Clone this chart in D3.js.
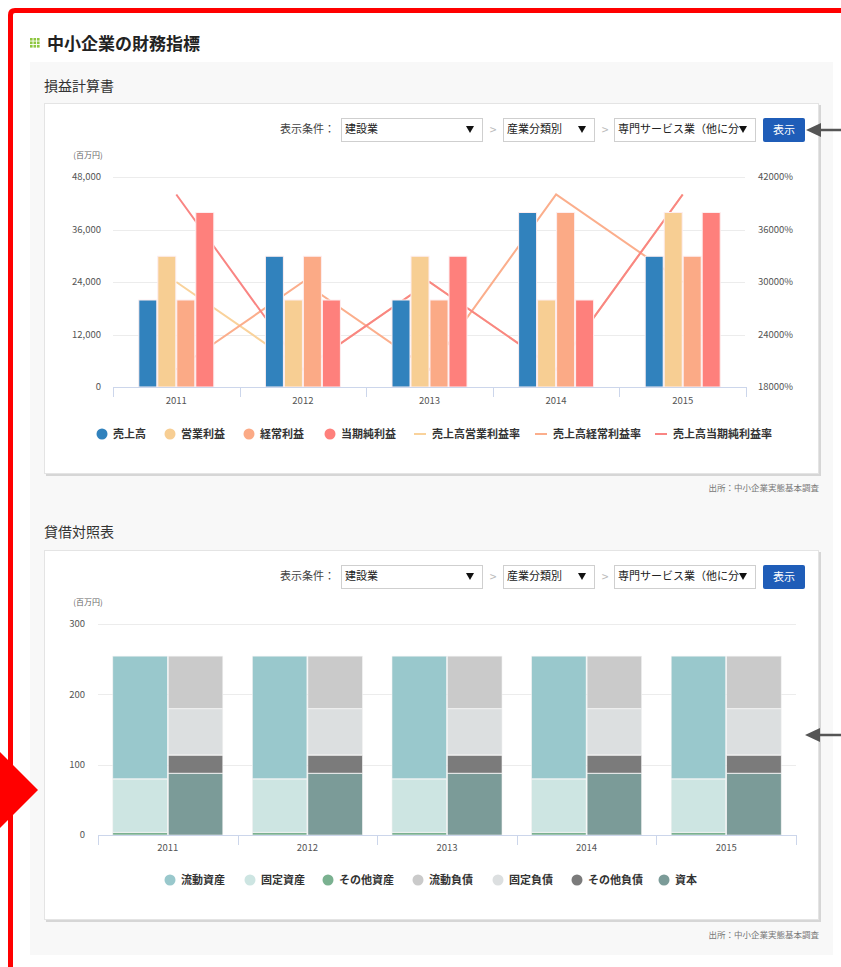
<!DOCTYPE html>
<html lang="ja">
<head>
<meta charset="UTF-8">
<title>中小企業の財務指標</title>
<script src="https://cdn.jsdelivr.net/npm/d3@7"></script>
<style>
  body { margin: 0; background: #fff; font-family: "Noto Sans CJK JP", "Noto Sans", sans-serif; }
  svg { display: block; }
  text { font-family: "Noto Sans CJK JP", "Noto Sans", sans-serif; }
</style>
</head>
<body>
<svg id="page" width="841" height="967"></svg>
<script>
// ---- data ----
const years = ["2011", "2012", "2013", "2014", "2015"];

// 損益計算書 (百万円)
const sales = [20000, 30000, 20000, 40000, 30000];
const operatingProfit = [30000, 20000, 30000, 20000, 40000];
const ordinaryProfit = [20000, 30000, 20000, 40000, 30000];
const netProfit = [40000, 20000, 30000, 20000, 40000];
// ratios (%)
const operatingMargin = [30000, 20000, 30000, 20000, 40000];
const ordinaryMargin = [20000, 30000, 20000, 40000, 30000];
const netMargin = [40000, 20000, 30000, 20000, 40000];

const plLeftTicks = [0, 12000, 24000, 36000, 48000];
const plRightTicks = [18000, 24000, 30000, 36000, 42000];

// 貸借対照表 (百万円)
const currentAssets = [175, 175, 175, 175, 175];
const fixedAssets = [76, 76, 76, 76, 76];
const otherAssets = [4, 4, 4, 4, 4];
const currentLiabilities = [75, 75, 75, 75, 75];
const fixedLiabilities = [66, 66, 66, 66, 66];
const otherLiabilities = [26, 26, 26, 26, 26];
const capital = [88, 88, 88, 88, 88];

const bsTicks = [0, 100, 200, 300];

// ---- page ----
const svg = d3.select("#page");

// gray panel
svg.append("rect").attr("x", 30).attr("y", 62).attr("width", 803).attr("height", 893).attr("fill", "#f8f8f8");

// title
const icon = svg.append("g").attr("transform", "translate(30,38)");
for (let i = 0; i < 3; i++) for (let j = 0; j < 3; j++) {
  icon.append("rect").attr("x", i * 3.5).attr("y", j * 3.5).attr("width", 2.6).attr("height", 2.6).attr("fill", "#8dc63f");
}
svg.append("text").attr("x", 47).attr("y", 50).attr("font-size", 17).attr("font-weight", "bold")
  .attr("fill", "#222").text("中小企業の財務指標");

svg.append("text").attr("x", 44).attr("y", 91).attr("font-size", 14).attr("fill", "#333").text("損益計算書");
svg.append("text").attr("x", 44).attr("y", 537).attr("font-size", 14).attr("fill", "#333").text("貸借対照表");

function card(y, h) {
  svg.append("rect").attr("x", 46).attr("y", y + 2).attr("width", 775).attr("height", h).attr("fill", "#d6d6d6");
  svg.append("rect").attr("x", 44.5).attr("y", y + 0.5).attr("width", 774).attr("height", h - 1)
    .attr("fill", "#fff").attr("stroke", "#e4e4e4");
}
card(103, 371);
card(550, 370);

function source(y) {
  svg.append("text").attr("x", 819).attr("y", y).attr("text-anchor", "end").attr("font-size", 8.5)
    .attr("fill", "#777").attr("dy", "0.35em").text("出所：中小企業実態基本調査");
}
source(488);
source(935);

function controls(y) {
  const g = svg.append("g").attr("transform", `translate(0,${y})`);
  g.append("text").attr("x", 280).attr("y", 11.5).attr("dy", "0.35em").attr("font-size", 11).attr("fill", "#444").text("表示条件：");
  const selects = [
    { x: 341, w: 141, label: "建設業" },
    { x: 503, w: 91, label: "産業分類別" },
    { x: 614, w: 141, label: "専門サービス業（他に分" }
  ];
  selects.forEach((s, i) => {
    g.append("rect").attr("x", s.x + 0.5).attr("y", 0.5).attr("width", s.w).attr("height", 23)
      .attr("fill", "#fff").attr("stroke", "#cfcfcf");
    g.append("text").attr("x", s.x + 4).attr("y", 11.5).attr("dy", "0.35em").attr("font-size", 11)
      .attr("fill", "#222").text(s.label);
    const tx = s.x + s.w - 12;
    g.append("path").attr("d", `M${tx - 4},8 L${tx + 4},8 L${tx},15 Z`).attr("fill", "#111");
    if (i < 2) {
      g.append("text").attr("x", s.x + s.w + 11).attr("y", 11.5).attr("dy", "0.35em").attr("text-anchor", "middle")
        .attr("font-size", 12).attr("fill", "#bbb").text(">");
    }
  });
  g.append("rect").attr("x", 763).attr("y", 0).attr("width", 42).attr("height", 24).attr("rx", 2).attr("fill", "#1f5db8");
  g.append("text").attr("x", 784).attr("y", 12).attr("dy", "0.35em").attr("text-anchor", "middle")
    .attr("font-size", 11).attr("fill", "#fff").text("表示");
}
controls(118);
controls(565);

// ---- 損益計算書 chart ----
{
  const left = 113, right = 746, y0 = 387, y1 = 177;
  const x = d3.scaleBand().domain(years).range([left, right]);
  const yL = d3.scaleLinear().domain([0, 48000]).range([y0, y1]);
  const yR = d3.scaleLinear().domain([18000, 42000]).range([y0, y1]);
  const g = svg.append("g");

  g.selectAll(".grid").data(plLeftTicks.slice(1)).join("line")
    .attr("x1", left).attr("x2", right - 1).attr("y1", d => Math.round(yL(d)) + 0.5).attr("y2", d => Math.round(yL(d)) + 0.5)
    .attr("stroke", "#ececec");

  g.append("text").attr("x", 88).attr("y", 158).attr("text-anchor", "middle").attr("font-size", 8).attr("fill", "#666").text("(百万円)");

  g.selectAll(".yl").data(plLeftTicks).join("text")
    .attr("x", 101).attr("y", d => yL(d)).attr("dy", "0.35em").attr("text-anchor", "end")
    .attr("font-size", 9.5).attr("fill", "#555").text(d => d3.format(",")(d));
  g.selectAll(".yr").data(plRightTicks).join("text")
    .attr("x", 758).attr("y", d => yR(d)).attr("dy", "0.35em")
    .attr("font-size", 9.5).attr("fill", "#555").text(d => d + "%");

  // lines sit behind the columns
  const lineSeries = [
    { values: operatingMargin, color: "#f9d29b" },
    { values: ordinaryMargin, color: "#fbae8c" },
    { values: netMargin, color: "#f98583" }
  ];
  const line = d3.line().x((d, i) => x(years[i]) + x.bandwidth() / 2).y(d => yR(d));
  lineSeries.forEach(s => {
    g.append("path").attr("d", line(s.values)).attr("fill", "none").attr("stroke", s.color).attr("stroke-width", 2);
  });

  const barSeries = [
    { name: "売上高", values: sales, color: "#3182bd" },
    { name: "営業利益", values: operatingProfit, color: "#f7ce93" },
    { name: "経常利益", values: ordinaryProfit, color: "#fbaa86" },
    { name: "当期純利益", values: netProfit, color: "#fe807c" }
  ];
  const groupW = 76;
  const x1 = d3.scaleBand().domain(barSeries.map(s => s.name)).range([0, groupW]);
  barSeries.forEach(s => {
    g.append("g").selectAll("rect").data(s.values).join("rect")
      .attr("x", (d, i) => x(years[i]) + (x.bandwidth() - groupW) / 2 + x1(s.name) + 0.5)
      .attr("y", d => yL(d) + 0.5)
      .attr("width", x1.bandwidth() - 1)
      .attr("height", d => yL(0) - yL(d) - 0.5)
      .attr("fill", s.color).attr("stroke", "#fdeef0").attr("stroke-width", 1);
  });

  // x axis
  g.append("line").attr("x1", left).attr("x2", right).attr("y1", y0 + 0.5).attr("y2", y0 + 0.5).attr("stroke", "#ccd6eb");
  const edges = years.map(d => x(d)).concat([right]);
  g.selectAll(".tk").data(edges).join("line")
    .attr("x1", d => Math.round(d) + 0.5).attr("x2", d => Math.round(d) + 0.5).attr("y1", y0).attr("y2", y0 + 10)
    .attr("stroke", "#ccd6eb");
  g.selectAll(".xl").data(years).join("text")
    .attr("x", d => x(d) + x.bandwidth() / 2).attr("y", 401).attr("dy", "0.35em").attr("text-anchor", "middle")
    .attr("font-size", 9.5).attr("fill", "#555").text(d => d);

  // legend
  const legendItems = [
    { name: "売上高", color: "#3182bd", type: "dot", x: 102 },
    { name: "営業利益", color: "#f7ce93", type: "dot", x: 170 },
    { name: "経常利益", color: "#fbaa86", type: "dot", x: 249 },
    { name: "当期純利益", color: "#fe807c", type: "dot", x: 330 },
    { name: "売上高営業利益率", color: "#f9d29b", type: "line", x: 420 },
    { name: "売上高経常利益率", color: "#fbae8c", type: "line", x: 541 },
    { name: "売上高当期純利益率", color: "#f98583", type: "line", x: 661 }
  ];
  const lg = g.append("g").attr("transform", "translate(0,434)");
  legendItems.forEach(it => {
    if (it.type === "dot") {
      lg.append("circle").attr("cx", it.x).attr("cy", 0).attr("r", 5.5).attr("fill", it.color);
    } else {
      lg.append("line").attr("x1", it.x - 6).attr("x2", it.x + 6).attr("y1", 0).attr("y2", 0)
        .attr("stroke", it.color).attr("stroke-width", 2);
    }
    lg.append("text").attr("x", it.x + (it.type === "dot" ? 11 : 12)).attr("y", 0).attr("dy", "0.35em")
      .attr("font-size", 11).attr("font-weight", "bold").attr("fill", "#333").text(it.name);
  });
}

// ---- 貸借対照表 chart ----
{
  const left = 98, right = 796, y0 = 835, y1 = 624;
  const x = d3.scaleBand().domain(years).range([left, right]);
  const y = d3.scaleLinear().domain([0, 300]).range([y0, y1]);
  const g = svg.append("g");

  g.selectAll(".grid").data(bsTicks.slice(1)).join("line")
    .attr("x1", left).attr("x2", right).attr("y1", d => Math.round(y(d)) + 0.5).attr("y2", d => Math.round(y(d)) + 0.5)
    .attr("stroke", "#ececec");
  g.append("text").attr("x", 88).attr("y", 605).attr("text-anchor", "middle").attr("font-size", 8).attr("fill", "#666").text("(百万円)");
  g.selectAll(".yl").data(bsTicks).join("text")
    .attr("x", 85).attr("y", d => y(d)).attr("dy", "0.35em").attr("text-anchor", "end")
    .attr("font-size", 9.5).attr("fill", "#555").text(d => d);

  const stacks = [
    { key: "assets", series: [
      { name: "その他資産", values: otherAssets, color: "#7ab190" },
      { name: "固定資産", values: fixedAssets, color: "#cde5e2" },
      { name: "流動資産", values: currentAssets, color: "#99c8cc" }
    ] },
    { key: "liabilities", series: [
      { name: "資本", values: capital, color: "#7b9b98" },
      { name: "その他負債", values: otherLiabilities, color: "#7b7b7b" },
      { name: "固定負債", values: fixedLiabilities, color: "#dcdfe0" },
      { name: "流動負債", values: currentLiabilities, color: "#cacaca" }
    ] }
  ];
  const groupW = 111;
  const x1 = d3.scaleBand().domain(stacks.map(s => s.key)).range([0, groupW]);
  stacks.forEach(st => {
    const rows = years.map((yr, i) => {
      const r = { year: yr };
      st.series.forEach(s => { r[s.name] = s.values[i]; });
      return r;
    });
    const layers = d3.stack().keys(st.series.map(s => s.name))(rows);
    layers.forEach((layer, li) => {
      g.append("g").selectAll("rect").data(layer).join("rect")
        .attr("x", d => x(d.data.year) + (x.bandwidth() - groupW) / 2 + x1(st.key) + 0.5)
        .attr("y", d => y(d[1]) + 0.5)
        .attr("width", x1.bandwidth() - 1)
        .attr("height", d => Math.max(0, y(d[0]) - y(d[1]) - 0.5))
        .attr("fill", st.series[li].color).attr("stroke", "#f2f2f2").attr("stroke-width", 0.6);
    });
  });

  g.append("line").attr("x1", left).attr("x2", right).attr("y1", y0 + 0.5).attr("y2", y0 + 0.5).attr("stroke", "#ccd6eb");
  const edges = years.map(d => x(d)).concat([right]);
  g.selectAll(".tk").data(edges).join("line")
    .attr("x1", d => Math.round(d) + 0.5).attr("x2", d => Math.round(d) + 0.5).attr("y1", y0).attr("y2", y0 + 10)
    .attr("stroke", "#ccd6eb");
  g.selectAll(".xl").data(years).join("text")
    .attr("x", d => x(d) + x.bandwidth() / 2).attr("y", 848).attr("dy", "0.35em").attr("text-anchor", "middle")
    .attr("font-size", 9.5).attr("fill", "#555").text(d => d);

  const legendItems = [
    { name: "流動資産", color: "#99c8cc", x: 170 },
    { name: "固定資産", color: "#cde5e2", x: 250 },
    { name: "その他資産", color: "#7ab190", x: 328 },
    { name: "流動負債", color: "#cacaca", x: 418 },
    { name: "固定負債", color: "#dcdfe0", x: 498 },
    { name: "その他負債", color: "#7b7b7b", x: 577 },
    { name: "資本", color: "#7b9b98", x: 664 }
  ];
  const lg = g.append("g").attr("transform", "translate(0,880)");
  legendItems.forEach(it => {
    lg.append("circle").attr("cx", it.x).attr("cy", 0).attr("r", 5.5).attr("fill", it.color);
    lg.append("text").attr("x", it.x + 11).attr("y", 0).attr("dy", "0.35em")
      .attr("font-size", 11).attr("font-weight", "bold").attr("fill", "#333").text(it.name);
  });
}

// ---- annotation marks (red frame, arrows) ----
svg.append("path").attr("d", "M10.5,967 V15 Q10.5,10.5 15,10.5 H841")
  .attr("fill", "none").attr("stroke", "#ff0000").attr("stroke-width", 5);
svg.append("path").attr("d", "M0,752 L38,790 L0,828 Z").attr("fill", "#ff0000");

function grayArrow(tipX, tipY) {
  svg.append("line").attr("x1", tipX + 10).attr("x2", 841).attr("y1", tipY).attr("y2", tipY)
    .attr("stroke", "#555").attr("stroke-width", 2.5);
  svg.append("path").attr("d", `M${tipX},${tipY} L${tipX + 15},${tipY - 7} L${tipX + 15},${tipY + 7} Z`).attr("fill", "#555");
}
grayArrow(806, 130);
grayArrow(805, 735);
</script>
</body>
</html>
